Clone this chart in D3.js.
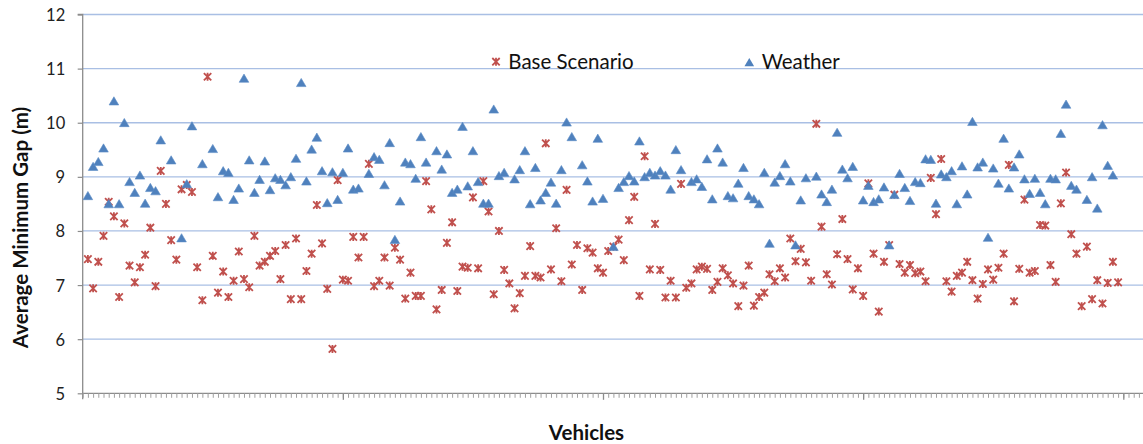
<!DOCTYPE html>
<html><head><meta charset="utf-8">
<script src="https://cdn.jsdelivr.net/npm/d3@7"></script>
<style>html,body{margin:0;padding:0;background:#fff;}svg{display:block;font-family:Lato,"Open Sans",sans-serif;}</style>
</head><body>
<svg id="chart" width="1143" height="444"></svg>
<script>
// Average minimum gap (m) per vehicle, vehicles 1..199 (null = no point drawn)
const baseScenario = [7.48,6.94,7.43,7.91,8.54,8.27,6.78,8.14,7.36,7.05,7.33,7.56,8.06,6.98,9.11,8.50,7.83,7.47,8.77,8.85,
8.72,7.33,6.72,10.85,7.54,6.86,7.25,6.78,7.08,7.62,7.11,6.96,7.91,7.36,7.43,7.54,7.63,7.11,7.74,6.74,
7.86,6.74,7.26,7.58,8.48,7.77,6.93,5.82,8.94,7.10,7.08,7.89,7.51,7.89,9.24,6.98,7.08,7.51,6.99,7.69,
7.47,6.75,7.23,6.80,6.80,8.92,8.40,6.55,6.91,7.78,8.16,6.89,7.34,7.32,8.62,7.31,8.92,8.36,6.83,8.00,
7.28,7.03,6.57,6.85,7.17,7.72,7.17,7.14,9.62,7.29,8.05,7.07,8.76,7.38,7.74,6.91,7.68,7.60,7.31,7.23,
7.63,7.71,7.84,7.46,8.20,8.63,6.80,9.38,7.29,8.13,7.28,6.77,7.08,6.77,8.87,6.95,7.03,7.29,7.34,7.30,
6.91,7.06,7.31,7.18,7.03,6.61,6.99,7.36,6.62,6.78,6.86,7.20,7.07,7.31,7.14,7.86,7.44,7.67,7.42,7.08,
9.98,8.08,7.20,7.01,7.57,8.22,7.48,6.92,7.31,6.80,8.88,7.58,6.51,7.43,7.74,8.67,7.39,7.23,7.37,7.22,
7.25,7.07,8.98,8.31,9.33,7.07,6.88,7.17,7.23,7.43,7.09,6.75,7.02,7.29,7.10,7.32,7.58,9.22,6.70,7.30,
8.58,7.23,7.26,8.11,8.10,7.37,7.06,8.51,9.08,7.94,7.58,6.61,7.71,6.74,7.09,6.66,7.04,7.43,7.05];
const weather = [8.65,9.19,9.28,9.53,8.50,10.40,8.50,10.00,8.91,8.71,9.03,8.51,8.80,8.74,9.68,null,9.31,null,7.87,8.87,
9.94,null,9.24,null,9.52,8.63,9.11,9.08,8.58,8.79,10.82,9.31,8.71,8.95,9.29,8.76,8.98,8.95,8.85,9.00,
9.34,10.74,8.92,9.51,9.73,9.11,8.52,9.09,8.58,9.08,9.53,8.77,8.79,null,9.06,9.37,9.32,8.85,9.63,7.84,
8.55,9.27,9.24,8.97,9.74,9.27,null,9.48,9.14,9.42,8.71,8.77,9.93,8.83,9.48,8.91,8.51,8.51,10.25,9.02,
9.08,null,8.96,9.13,9.48,8.50,9.17,8.57,8.71,8.90,8.51,9.13,10.01,9.74,null,9.22,8.92,8.55,9.71,8.60,
null,7.71,8.80,8.91,9.02,8.92,9.66,9.00,9.08,9.03,9.11,9.03,8.77,9.50,9.13,null,8.91,8.96,8.82,9.33,
8.59,9.53,9.27,8.65,8.61,8.88,9.17,8.65,8.59,8.50,9.08,7.77,8.90,9.02,9.24,8.92,7.74,8.57,8.98,null,
9.01,8.68,8.54,8.77,9.82,9.14,8.98,9.19,null,8.57,8.84,8.54,8.59,8.81,7.74,8.67,9.06,8.80,8.56,8.91,
8.89,9.33,9.32,8.51,9.05,9.00,9.11,8.50,9.20,8.68,10.02,9.18,9.27,7.88,9.16,8.88,9.71,8.79,9.18,9.42,
8.96,8.69,8.97,8.71,8.50,8.97,8.96,9.80,10.34,8.84,8.77,null,8.58,9.00,8.42,9.96,9.21,9.03,null];
const vehicles = d3.range(1, baseScenario.length + 1);
const yTicks = [5,6,7,8,9,10,11,12];
const seriesNames = ["Base Scenario", "Weather"];
const yTitle = "Average Minimum Gap (m)";
const xTitle = "Vehicles";

(function draw() {
const svg = d3.select("#chart");
const pLeft = 82.7, pBottom = 393.3, pTop = 14.5;
const x = d3.scaleLinear().domain([0, 204]).range([pLeft, pLeft + 204 * 5.203]);
const y = d3.scaleLinear().domain([5, 12]).range([pBottom, pTop]);
const red = "#C0504D", blue = "#4F81BD", axisCol = "#8C8C8C";

// gridlines
svg.append("g").selectAll("line").data(yTicks.filter(v => v > 5)).join("line")
  .attr("x1", pLeft).attr("x2", 1143).attr("y1", d => y(d)).attr("y2", d => y(d))
  .attr("stroke", "#A9BFE4").attr("stroke-width", 1.3);

// y axis
const gy = svg.append("g").attr("transform", `translate(${pLeft},0)`)
  .call(d3.axisLeft(y).tickValues(yTicks).tickSize(5).tickPadding(12.5).tickFormat(d3.format("d")));
gy.select(".domain").attr("stroke", axisCol).attr("stroke-width", 1.3).attr("d", `M-5,${pTop}H0V${pBottom + 6}`);
gy.selectAll(".tick line").attr("stroke", axisCol).attr("stroke-width", 1.2);
gy.selectAll(".tick text").attr("font-size", 16.5).attr("font-family", "Lato").attr("fill", "#222").attr("dy", "0.36em");

// x axis minor + major ticks
const gx = svg.append("g").attr("transform", `translate(0,${pBottom})`)
  .call(d3.axisBottom(x).tickValues(d3.range(0, 205)).tickSize(4.5).tickFormat(""));
gx.select(".domain").attr("stroke", axisCol).attr("stroke-width", 1.3).attr("d", `M${pLeft},0H1143`);
gx.selectAll(".tick line").attr("stroke", "#A0A0A0").attr("stroke-width", 1);
const gxM = svg.append("g").attr("transform", `translate(0,${pBottom})`)
  .call(d3.axisBottom(x).tickValues([50,100,150,200]).tickSize(6.5).tickFormat(""));
gxM.select(".domain").remove();
gxM.selectAll(".tick line").attr("stroke", axisCol).attr("stroke-width", 1.3);

// markers
const starPath = "M-3.7,-3.7L3.7,3.7M3.7,-3.7L-3.7,3.7M0,-4L0,4";
const triPath = "M0,-4.3L4.8,3.9L-4.8,3.9Z";
const baseData = vehicles.map((v, i) => ({v, val: baseScenario[i]})).filter(d => d.val != null);
const wData = vehicles.map((v, i) => ({v, val: weather[i]})).filter(d => d.val != null);

svg.append("g").selectAll("path").data(baseData).join("path")
  .attr("transform", d => `translate(${x(d.v)},${y(d.val)})`)
  .attr("d", starPath).attr("stroke", red).attr("stroke-width", 1.8).attr("fill", "none");
svg.append("g").selectAll("path").data(wData).join("path")
  .attr("transform", d => `translate(${x(d.v)},${y(d.val)})`)
  .attr("d", triPath).attr("fill", blue).attr("stroke", "#5B8BC6").attr("stroke-width", 0.6);

// legend
const lg = svg.append("g").attr("font-family", "Lato").attr("font-size", 20.5).attr("fill", "#111");
lg.append("path").attr("transform", "translate(496,61.7)").attr("d", starPath)
  .attr("stroke", red).attr("stroke-width", 1.8).attr("fill", "none");
lg.append("text").attr("x", 508.3).attr("y", 69).text(seriesNames[0]);
lg.append("path").attr("transform", "translate(749.3,62.3)").attr("d", triPath).attr("fill", blue);
lg.append("text").attr("x", 761.7).attr("y", 69).text(seriesNames[1]);

// titles
svg.append("text").attr("transform", "translate(28,227.5) rotate(-90)").attr("text-anchor", "middle")
  .attr("font-family", "Lato").attr("font-weight", "bold").attr("font-size", 20.5).attr("fill", "#111").text(yTitle);
svg.append("text").attr("x", 586.5).attr("y", 440).attr("text-anchor", "middle")
  .attr("font-family", "Lato").attr("font-weight", "bold").attr("font-size", 20.5).attr("fill", "#111").text(xTitle);
})();
</script>
</body></html>
